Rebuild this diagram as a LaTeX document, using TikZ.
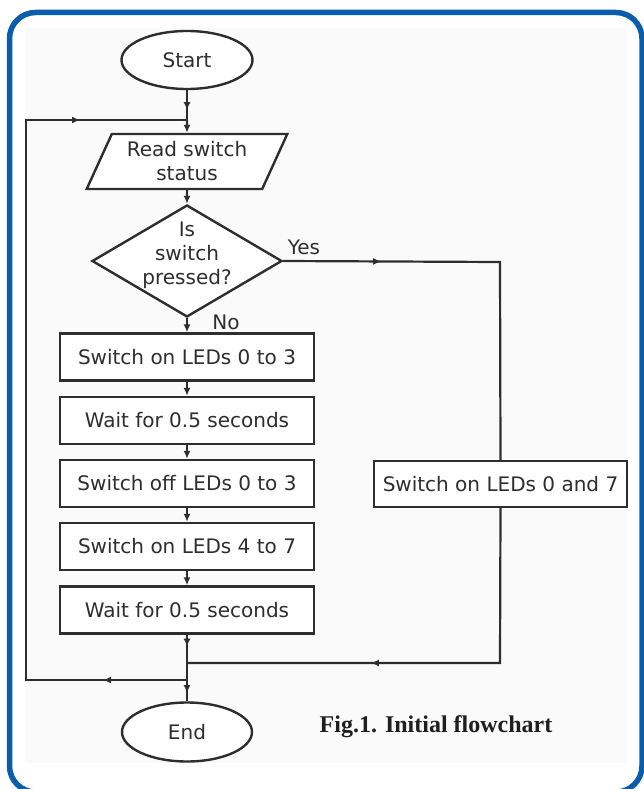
\documentclass[tikz,border=0pt]{standalone}
\usepackage{fontspec}
\setmainfont{DejaVu Sans}
\newfontfamily\capfont{Liberation Serif}
\usetikzlibrary{shapes.geometric, arrows.meta, decorations.markings}
\definecolor{frameblue}{HTML}{0A5DAB}
\definecolor{ink}{HTML}{2E2E2E}
\definecolor{panel}{HTML}{FAFAFA}
\begin{document}
\begin{tikzpicture}[x=1pt, y=-1pt,
  every node/.style={font=\fontsize{20}{24}\selectfont, text=ink},
  shp/.style={draw=ink, line width=2.4pt, fill=white, inner sep=0pt},
  procbox/.style={shp, rectangle, minimum width=254pt, minimum height=47pt},
  term/.style={shp, ellipse, minimum width=131pt, minimum height=58pt},
  conn/.style={draw=ink, color=ink, line width=2.2pt},
  endarrow/.style={-{Latex[length=8pt,width=7pt]}},
  arrowat/.style={postaction={decorate}, decoration={markings, mark=at position #1 with {\arrow{Latex[length=8pt,width=7pt]}}}},
  twoarrows/.style 2 args={postaction={decorate}, decoration={markings,
     mark=at position #1 with {\arrow{Latex[length=8pt,width=7pt]}},
     mark=at position #2 with {\arrow{Latex[length=8pt,width=7pt]}}}},
]
\useasboundingbox (0,0) rectangle (644,789);
\clip (0,0) rectangle (644,789);
\fill[white] (0,0) rectangle (644,789);
\fill[panel] (25,28) rectangle (627,763);
\draw[frameblue, line width=5.5pt, rounded corners=26pt] (9.5,12.5) rectangle (642,792);

% nodes
\node[term] (start) at (187,60) {Start};
\node[shp, trapezium, trapezium left angle=63, trapezium right angle=117,
      trapezium stretches=true, minimum width=201pt, minimum height=55pt,
      align=center] (read) at (187,161.5) {Read switch\\status};
\node[shp, diamond, minimum width=190pt, minimum height=112pt] (dec) at (187,261) {};
\node[align=center] (dectext) at (187,255) {Is\\switch\\pressed?};
\node[procbox] (b1) at (187,357) {Switch on LEDs 0 to 3};
\node[procbox] (b2) at (187,420.5) {Wait for 0.5 seconds};
\node[procbox] (b3) at (187,483.5) {Switch off LEDs 0 to 3};
\node[procbox] (b4) at (187,546.5) {Switch on LEDs 4 to 7};
\node[procbox] (b5) at (187,610) {Wait for 0.5 seconds};
\node[procbox, minimum width=253pt, minimum height=46pt] (r1) at (500.5,484) {Switch on LEDs 0 and 7};
\node[term, minimum width=130pt, minimum height=59pt] (stop) at (187,732) {End};
\node (yes) at (304,247) {Yes};
\node (no) at (226,322) {No};
\node[font=\capfont\bfseries\fontsize{24}{28}\selectfont, text=black!88] (cap) at (436,727) {Fig.1. Initial flowchart};

% junction points
\coordinate (j1) at (187,120);
\coordinate (lt) at (26,120);
\coordinate (lb) at (26,680);
\coordinate (m1) at (187,663);
\coordinate (m2) at (187,680);
\coordinate (yc) at (500,262);
\coordinate (rc) at (500,663);

% connectors
\draw[conn, arrowat=20pt] (start.south) -- (j1);
\draw[conn, endarrow] (j1) -- (read.north);
\draw[conn, endarrow] (read.south) -- (dec.north);
\draw[conn, endarrow] (dec.south) -- (b1.north);
\draw[conn, endarrow] (b1.south) -- (b2.north);
\draw[conn, endarrow] (b2.south) -- (b3.north);
\draw[conn, endarrow] (b3.south) -- (b4.north);
\draw[conn, endarrow] (b4.south) -- (b5.north);
\draw[conn, arrowat=12pt] (b5.south) -- (m1);
\draw[conn, arrowat=30pt] (m1) -- (stop.north);
\draw[conn, twoarrows={84pt}{775pt}] (m2) -- (lb) -- (lt) -- (j1);
\draw[conn, arrowat=98pt] (dec.east) -- (yc) -- (r1.north);
\draw[conn, arrowat=284pt] (r1.south) -- (rc) -- (m1);
\end{tikzpicture}
\end{document}
